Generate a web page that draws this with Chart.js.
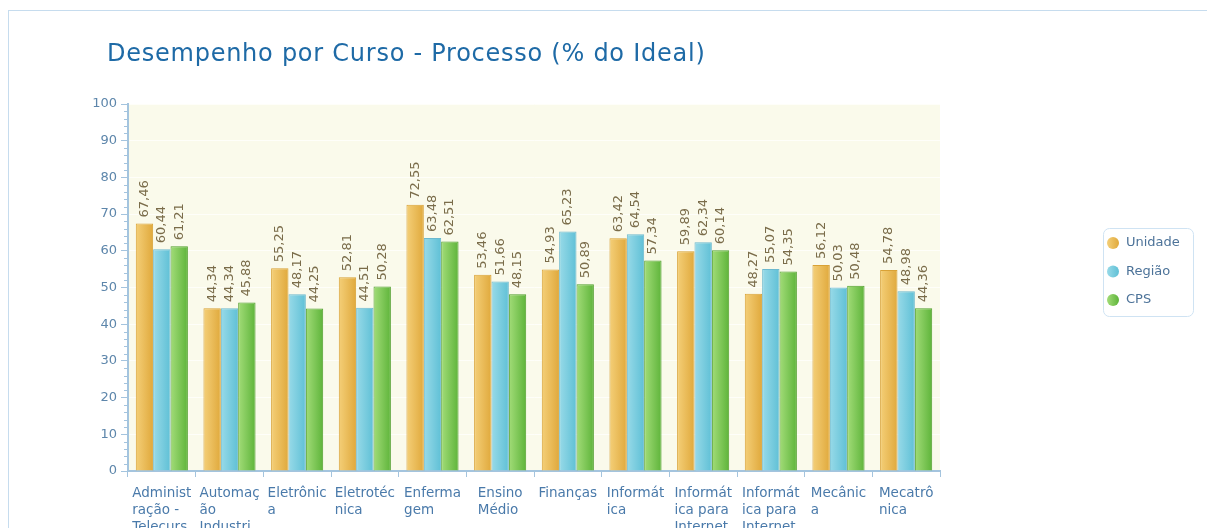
<!DOCTYPE html>
<html>
<head>
<meta charset="utf-8">
<script src="https://cdn.jsdelivr.net/npm/chart.js@4"></script>
<style>
  html, body { margin: 0; padding: 0; background: #fff; overflow: hidden; }
  body { width: 1207px; height: 528px; position: relative; }
  .frame { position: absolute; left: 8px; top: 10px; width: 1300px; height: 700px; border: 1px solid #c6dcee; }
  .wrap { position: absolute; left: 0; top: 0; width: 1207px; height: 560px; }
</style>
</head>
<body>
<div class="frame"></div>
<div class="wrap"><canvas id="chart"></canvas></div>
<script>
const chartTitle = "Desempenho por Curso - Processo (% do Ideal)";
const categories = [
  ["Administ", "ração -", "Telecurs"],
  ["Automaç", "ão", "Industri"],
  ["Eletrônic", "a"],
  ["Eletrotéc", "nica"],
  ["Enferma", "gem"],
  ["Ensino", "Médio"],
  ["Finanças"],
  ["Informát", "ica"],
  ["Informát", "ica para", "Internet"],
  ["Informát", "ica para", "Internet"],
  ["Mecânic", "a"],
  ["Mecatrô", "nica"]
];
const unidade = [67.46, 44.34, 55.25, 52.81, 72.55, 53.46, 54.93, 63.42, 59.89, 48.27, 56.12, 54.78];
const regiao = [60.44, 44.34, 48.17, 44.51, 63.48, 51.66, 65.23, 64.54, 62.34, 55.07, 50.03, 48.98];
const cps = [61.21, 45.88, 44.25, 50.28, 62.51, 48.15, 50.89, 57.34, 60.14, 54.35, 50.48, 44.36];
const yTicks = [0, 10, 20, 30, 40, 50, 60, 70, 80, 90, 100];

const FONT = "'DejaVu Sans', Verdana, sans-serif";
const CAT_PCT = 0.77;

// cores: [claro, escuro, borda]
const palette = [
  ["#f4cf78", "#e0a93c", "#d9a236"],
  ["#98dae8", "#5fc0d6", "#6cb9cf"],
  ["#a2dc78", "#5eb43a", "#519f2d"]
];

function fmt(v) {
  return v.toFixed(2).replace(".", ",");
}

function barGradient(ctx) {
  const chart = ctx.chart;
  const colors = palette[ctx.datasetIndex];
  const x = chart.scales.x;
  if (!chart.chartArea || !x || ctx.type !== "data") return colors[1];
  const catW = x.width / categories.length;
  const barW = catW * CAT_PCT / 3;
  const left = x.getPixelForValue(ctx.dataIndex) - catW * CAT_PCT / 2 + ctx.datasetIndex * barW;
  const g = chart.ctx.createLinearGradient(left, 0, left + barW, 0);
  g.addColorStop(0, colors[0]);
  g.addColorStop(1, colors[1]);
  return g;
}

const decor = {
  id: "decor",
  beforeDraw(chart) {
    const { ctx, chartArea: a } = chart;
    ctx.save();
    ctx.fillStyle = "#fafaeb";
    ctx.fillRect(a.left, a.top, a.right - a.left, a.bottom - a.top);
    ctx.restore();
  },
  afterDatasetsDraw(chart) {
    const { ctx } = chart;
    ctx.save();
    ctx.font = "13px " + FONT;
    ctx.fillStyle = "#7a6c4a";
    ctx.textAlign = "left";
    ctx.textBaseline = "middle";
    chart.data.datasets.forEach((ds, di) => {
      chart.getDatasetMeta(di).data.forEach((el, i) => {
        ctx.save();
        ctx.translate(el.x, el.y - 6);
        ctx.rotate(-Math.PI / 2);
        ctx.fillText(fmt(ds.data[i]), 0, 0);
        ctx.restore();
      });
    });
    ctx.restore();
  },
  afterDraw(chart) {
    const { ctx, chartArea: a } = chart;
    const y = chart.scales.y;
    const x = chart.scales.x;
    ctx.save();
    // title
    ctx.font = "24px " + FONT;
    ctx.letterSpacing = "0.75px";
    ctx.fillStyle = "#1e6aa6";
    ctx.textAlign = "left";
    ctx.textBaseline = "middle";
    ctx.fillText(chartTitle, 107, 55);
    ctx.letterSpacing = "0px";
    // minor ticks
    ctx.strokeStyle = "#a4c4de";
    ctx.lineWidth = 1;
    for (let v = 2; v < 100; v += 2) {
      if (v % 10 === 0) continue;
      const py = Math.round(y.getPixelForValue(v)) + 0.5;
      ctx.beginPath();
      ctx.moveTo(a.left - 4, py);
      ctx.lineTo(a.left, py);
      ctx.stroke();
    }
    // category labels
    ctx.font = "13.5px " + FONT;
    ctx.fillStyle = "#4a7aaa";
    categories.forEach((lines, i) => {
      const cx = x.getPixelForValue(i);
      const w = Math.max(...lines.map(l => ctx.measureText(l).width));
      lines.forEach((l, k) => ctx.fillText(l, cx - w / 2, a.bottom + 22 + k * 17));
    });
    // legend
    ctx.font = "13px " + FONT;
    const lx = 1103.5, ly = 228.5;
    ctx.strokeStyle = "#cfe3f3";
    ctx.beginPath();
    ctx.roundRect(lx, ly, 90, 88, 6);
    ctx.stroke();
    chart.data.datasets.forEach((ds, di) => {
      const cy = 243 + di * 28.5;
      const g = ctx.createLinearGradient(1107, 0, 1119, 0);
      g.addColorStop(0, palette[di][0]);
      g.addColorStop(1, palette[di][1]);
      ctx.fillStyle = g;
      ctx.beginPath();
      ctx.arc(1113, cy, 6, 0, Math.PI * 2);
      ctx.fill();
      ctx.fillStyle = "#4d7399";
      ctx.fillText(ds.label, 1126, cy);
    });
    ctx.restore();
  }
};

new Chart(document.getElementById("chart"), {
  type: "bar",
  data: {
    labels: categories.map(c => c.join(" ")),
    datasets: [
      { label: "Unidade", data: unidade, borderColor: palette[0][2] },
      { label: "Região", data: regiao, borderColor: palette[1][2] },
      { label: "CPS", data: cps, borderColor: palette[2][2] }
    ]
  },
  options: {
    responsive: true,
    maintainAspectRatio: false,
    animation: false,
    devicePixelRatio: 1,
    layout: { padding: { left: 60, right: 267, top: 104, bottom: 0 } },
    datasets: {
      bar: {
        backgroundColor: barGradient,
        borderWidth: 1,
        borderSkipped: "bottom",
        categoryPercentage: CAT_PCT,
        barPercentage: 1
      }
    },
    plugins: {
      legend: { display: false },
      tooltip: { enabled: false },
      title: { display: false }
    },
    scales: {
      x: {
        afterFit: s => { s.height = 89; },
        grid: { drawOnChartArea: false, drawTicks: true, tickLength: 6, color: "#a4c4de", offset: true },
        border: { color: "#a4c4de", width: 2 },
        ticks: { display: false }
      },
      y: {
        min: 0,
        max: 100,
        afterFit: s => { s.width = 68; },
        afterBuildTicks: s => { s.ticks = yTicks.map(v => ({ value: v })); },
        grid: { color: "rgba(255,255,255,0.7)", tickColor: "#a4c4de", tickLength: 7, lineWidth: 1 },
        border: { color: "#a4c4de", width: 2 },
        ticks: { color: "#5d86ab", padding: 4, font: { family: FONT, size: 13 } }
      }
    }
  },
  plugins: [decor]
});
</script>
</body>
</html>
